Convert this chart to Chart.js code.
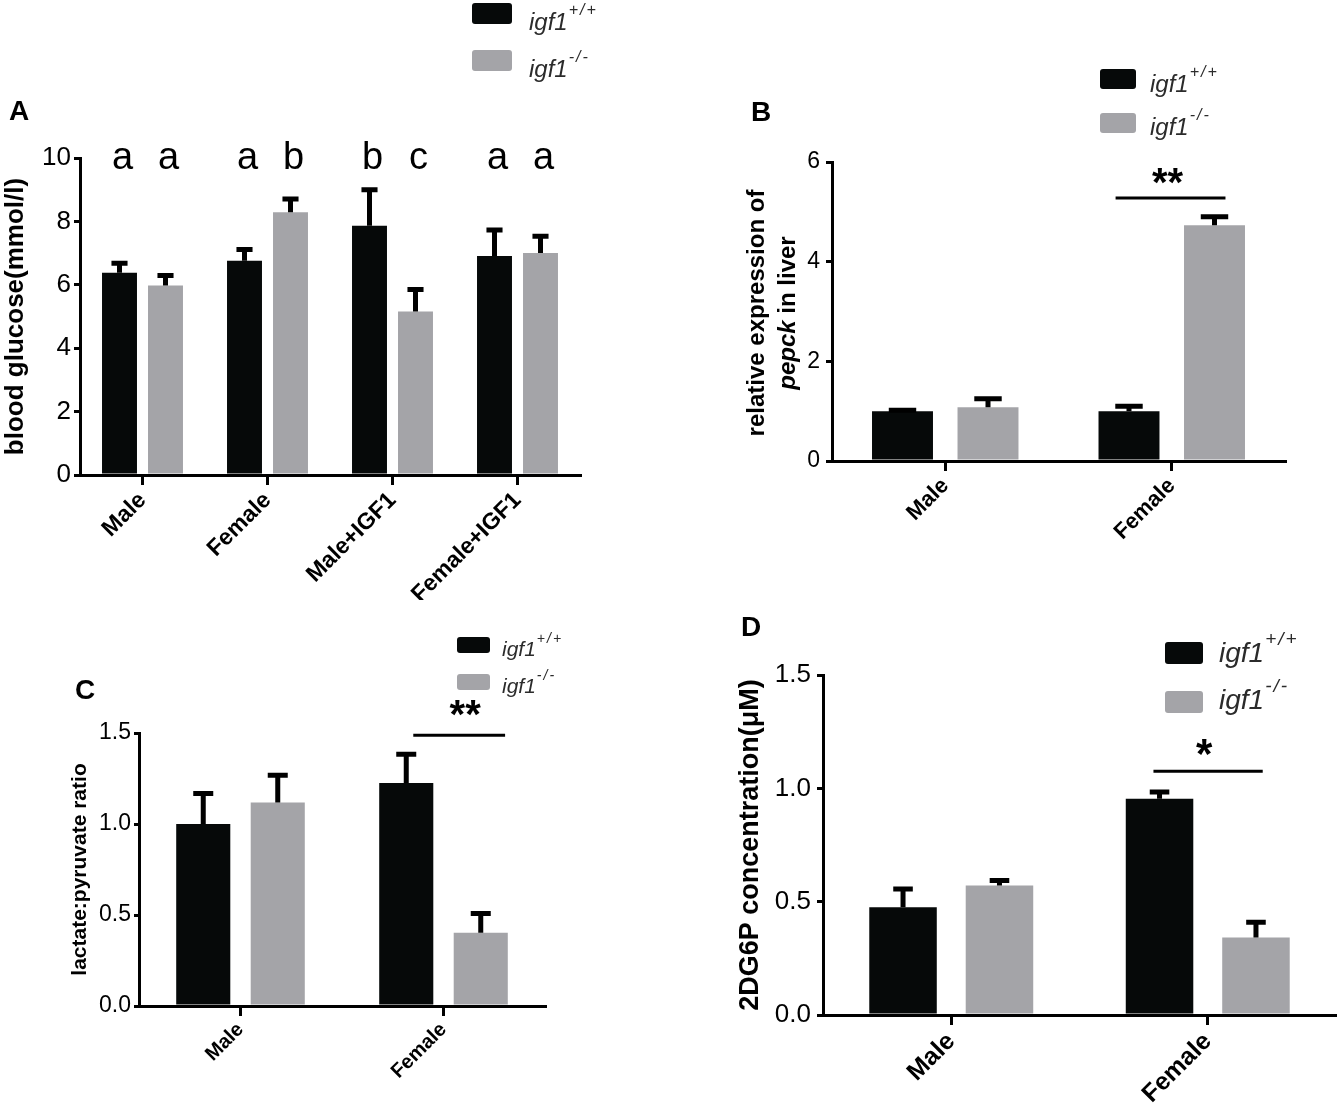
<!DOCTYPE html>
<html>
<head>
<meta charset="utf-8">
<script src="https://cdn.jsdelivr.net/npm/chart.js@4.4.1/dist/chart.umd.min.js"></script>
<style>
  html, body { margin: 0; padding: 0; background: #fff; }
  body { width: 1337px; height: 1108px; position: relative; overflow: hidden;
         font-family: "Liberation Sans", Arial, Helvetica, sans-serif; }
  canvas { position: absolute; }
  .panel { position: absolute; font-weight: bold; color: #000; line-height: 1; }
  .sw { position: absolute; border-radius: 3px; }
  .legtxt { position: absolute; font-style: italic; color: #2b2b2b; line-height: 1; white-space: nowrap; }
  .legtxt span { position: relative; letter-spacing: 2px; margin-left: 1px; }
  #titleB { position: absolute; width: 330px; height: 62px; left: 606px; top: 282px;
            transform: rotate(-90deg); text-align: center; font-weight: bold;
            font-size: 24px; line-height: 31px; color: #000; }
</style>
</head>
<body>
<canvas id="chartA" width="620" height="600" style="left:0px;top:0px"></canvas>
<canvas id="chartB" width="657" height="540" style="left:680px;top:50px"></canvas>
<canvas id="chartC" width="620" height="508" style="left:0px;top:600px"></canvas>
<canvas id="chartD" width="637" height="508" style="left:700px;top:600px"></canvas>

<div class="panel" style="left:9px;top:97px;font-size:28px">A</div>
<div class="panel" style="left:751px;top:98px;font-size:28px">B</div>
<div class="panel" style="left:75px;top:676px;font-size:28px">C</div>
<div class="panel" style="left:741px;top:613px;font-size:28px">D</div>
<div id="titleB">relative expression of<br><i>pepck</i> in liver</div>

<script>
// ---- data ----
const seriesNames = ['+/+', '-/-'];

const groupsA = ['Male', 'Female', 'Male+IGF1', 'Female+IGF1'];
const wtA = [6.38, 6.76, 7.86, 6.91];
const wtSemA = [0.30, 0.35, 1.14, 0.82];
const koA = [5.98, 8.29, 5.16, 7.00];
const koSemA = [0.31, 0.42, 0.69, 0.53];
const lettersWtA = ['a', 'a', 'b', 'a'];
const lettersKoA = ['a', 'b', 'c', 'a'];
const ticksA = [0, 2, 4, 6, 8, 10];

const groupsB = ['Male', 'Female'];
const wtB = [1.00, 1.00];
const wtSemB = [0.02, 0.10];
const koB = [1.08, 4.73];
const koSemB = [0.17, 0.17];
const ticksB = [0, 2, 4, 6];
const sigB = { text: '**', level: 5.28 };

const groupsC = ['Male', 'Female'];
const wtC = [1.00, 1.225];
const wtSemC = [0.167, 0.158];
const koC = [1.118, 0.402];
const koSemC = [0.15, 0.106];
const ticksC = [0.0, 0.5, 1.0, 1.5];
const sigC = { text: '**', level: 1.487 };

const groupsD = ['Male', 'Female'];
const wtD = [0.475, 0.954];
const wtSemD = [0.081, 0.030];
const koD = [0.571, 0.342];
const koSemD = [0.022, 0.067];
const ticksD = [0.0, 0.5, 1.0, 1.5];
const sigD = { text: '*', level: 1.075 };

// ---- styling ----
const BLACK = '#060909';
const GREY = '#a4a4a8';
const FONT = '"Liberation Sans", Arial, Helvetica, sans-serif';

// error bars (upward only, like the GraphPad original)
const errorBars = {
  id: 'errorBars',
  afterDatasetsDraw(chart, args, opts) {
    const { ctx, scales: { y } } = chart;
    ctx.save();
    ctx.strokeStyle = '#000';
    ctx.lineWidth = 5;
    chart.data.datasets.forEach((ds, i) => {
      chart.getDatasetMeta(i).data.forEach((bar, j) => {
        const top = y.getPixelForValue(ds.data[j] + ds.sem[j]);
        const half = bar.width * opts.cap / 2;
        ctx.beginPath();
        ctx.moveTo(bar.x, bar.y);
        ctx.lineTo(bar.x, top);
        ctx.moveTo(bar.x - half, top);
        ctx.lineTo(bar.x + half, top);
        ctx.stroke();
      });
    });
    ctx.restore();
  }
};

// letters above the bars (panel A)
const barLetters = {
  id: 'barLetters',
  afterDatasetsDraw(chart, args, opts) {
    if (!opts.sets) return;
    const { ctx, scales: { y } } = chart;
    ctx.save();
    ctx.font = '38px ' + FONT;
    ctx.fillStyle = '#000';
    ctx.textAlign = 'center';
    const base = y.getPixelForValue(y.max) + 11;
    opts.sets.forEach((letters, i) => {
      chart.getDatasetMeta(i).data.forEach((bar, j) => ctx.fillText(letters[j], bar.x + 3, base));
    });
    ctx.restore();
  }
};

// significance line + stars
const sigMark = {
  id: 'sigMark',
  afterDatasetsDraw(chart, args, opts) {
    if (!opts.text) return;
    const { ctx, scales: { y } } = chart;
    const a = chart.getDatasetMeta(0).data[opts.index];
    const b = chart.getDatasetMeta(1).data[opts.index];
    const x0 = a.x + opts.from * a.width;
    const x1 = b.x + opts.to * b.width;
    const ly = y.getPixelForValue(opts.level);
    ctx.save();
    ctx.strokeStyle = '#000';
    ctx.lineWidth = 3;
    ctx.beginPath();
    ctx.moveTo(x0, ly);
    ctx.lineTo(x1, ly);
    ctx.stroke();
    ctx.font = 'bold ' + opts.size + 'px ' + FONT;
    ctx.fillStyle = '#000';
    ctx.textAlign = 'center';
    ctx.fillText(opts.text, (x0 + x1) / 2 + opts.dx, ly - opts.dy);
    ctx.restore();
  }
};

function makePanel(id, o) {
  const ticks = o.ticks;
  return new Chart(document.getElementById(id), {
    type: 'bar',
    data: {
      labels: o.labels,
      datasets: [
        { label: 'igf1' + seriesNames[0], data: o.wt, sem: o.wtSem, backgroundColor: BLACK },
        { label: 'igf1' + seriesNames[1], data: o.ko, sem: o.koSem, backgroundColor: GREY }
      ]
    },
    options: {
      responsive: false,
      animation: false,
      layout: { padding: o.pad },
      datasets: { bar: { categoryPercentage: o.cat, barPercentage: o.bar } },
      plugins: {
        legend: { display: false },
        tooltip: { enabled: false },
        errorBars: { cap: o.cap },
        barLetters: { sets: o.letters },
        sigMark: o.sig || {}
      },
      scales: {
        x: {
          z: 1,
          grid: { display: true, drawOnChartArea: false, offset: false, color: '#000', lineWidth: 3, tickLength: 10 },
          border: { color: '#000', width: 3 },
          ticks: { color: '#000', font: { family: FONT, size: o.xFont, weight: 'bold' },
                   minRotation: 45, maxRotation: 45, padding: 2, autoSkip: false },
          afterFit(s) { s.height = o.xH; }
        },
        y: {
          z: 1,
          min: ticks[0],
          max: ticks[ticks.length - 1],
          grid: { display: true, drawOnChartArea: false, color: '#000', lineWidth: 3, tickLength: o.yTick },
          border: { color: '#000', width: 3 },
          ticks: {
            stepSize: ticks[1] - ticks[0],
            color: '#000',
            padding: o.yPad,
            font: { family: FONT, size: o.yFont },
            callback: v => o.decimals ? v.toFixed(o.decimals) : String(v)
          },
          title: {
            display: !!o.title,
            text: o.title,
            color: '#000',
            font: { family: FONT, size: o.titleFont, weight: 'bold' },
            padding: { top: o.titlePad, bottom: 0 }
          },
          afterFit(s) { s.width = o.yW; }
        }
      }
    },
    plugins: [errorBars, barLetters, sigMark]
  });
}

makePanel('chartA', {
  labels: groupsA, wt: wtA, wtSem: wtSemA, ko: koA, koSem: koSemA, ticks: ticksA,
  pad: { left: 0, top: 158, right: 40, bottom: 0 }, yW: 80, xH: 125,
  cat: 0.736, bar: 0.76, cap: 0.46, xFont: 23, yFont: 26, yTick: 6, yPad: 3,
  title: 'blood glucose(mmol/l)', titleFont: 26, titlePad: 0,
  letters: [lettersWtA, lettersKoA]
});

makePanel('chartB', {
  labels: groupsB, wt: wtB, wtSem: wtSemB, ko: koB, koSem: koSemB, ticks: ticksB,
  pad: { left: 0, top: 112, right: 52, bottom: 0 }, yW: 152, xH: 129,
  cat: 0.755, bar: 0.713, cap: 0.45, xFont: 22, yFont: 23, yTick: 6, yPad: 6,
  sig: { index: 1, text: sigB.text, level: sigB.level, from: -0.22, to: 0.18, dx: -3, dy: 2, size: 40 }
});

makePanel('chartC', {
  labels: groupsC, wt: wtC, wtSem: wtSemC, ko: koC, koSem: koSemC, ticks: ticksC,
  pad: { left: 0, top: 133, right: 75, bottom: 0 }, yW: 139, xH: 102,
  cat: 0.734, bar: 0.726, cap: 0.37, xFont: 20, yFont: 23, yTick: 5, yPad: 3, decimals: 1,
  title: 'lactate:pyruvate ratio', titleFont: 21, titlePad: 68,
  sig: { index: 1, text: sigC.text, level: sigC.level, from: 0.13, to: 0.45, dx: 6, dy: 7, size: 40 }
});

makePanel('chartD', {
  labels: groupsD, wt: wtD, wtSem: wtSemD, ko: koD, koSem: koSemD, ticks: ticksD,
  pad: { left: 0, top: 75, right: 1, bottom: 0 }, yW: 123, xH: 93,
  cat: 0.752, bar: 0.70, cap: 0.29, xFont: 25, yFont: 26, yTick: 6, yPad: 6, decimals: 1,
  title: '2DG6P concentration(\u03bcM)', titleFont: 27, titlePad: 34,
  sig: { index: 1, text: sigD.text, level: sigD.level, from: -0.09, to: 0.10, dx: -4, dy: 3, size: 42 }
});

// legends (one per panel, as in the figure)
function addLegend(x, boxW, boxH, boxTops, textX, bases, fs) {
  seriesNames.forEach((sup, i) => {
    const sw = document.createElement('div');
    sw.className = 'sw';
    sw.style.cssText = `left:${x}px;top:${boxTops[i]}px;width:${boxW}px;height:${boxH}px;background:${i ? GREY : BLACK}`;
    document.body.appendChild(sw);
    const t = document.createElement('div');
    t.className = 'legtxt';
    t.style.cssText = `left:${textX}px;top:${bases[i] - 0.85 * fs}px;font-size:${fs}px`;
    t.innerHTML = `igf1<span style="font-size:${Math.round(fs * 0.68)}px;top:${-0.62 * fs}px">${sup}</span>`;
    document.body.appendChild(t);
  });
}
addLegend(472, 40, 21, [3, 50], 529, [30, 77], 24);
addLegend(1100, 36, 20, [69, 113], 1150, [92, 135], 24);
addLegend(457, 33, 16, [637, 674], 502, [656, 693], 21);
addLegend(1165, 38, 22, [642, 691], 1219, [663, 710], 28);
</script>
</body>
</html>
